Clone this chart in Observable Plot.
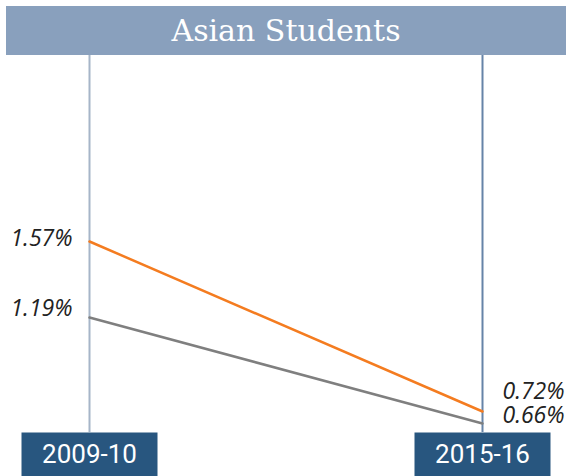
<!DOCTYPE html>
<html><head><meta charset="utf-8">
<script src="https://cdn.jsdelivr.net/npm/d3@7"></script>
<script src="https://cdn.jsdelivr.net/npm/@observablehq/plot@0.6"></script>
<style>
body{margin:0;background:#fff;}
#wrap{width:566px;height:476px;position:relative;overflow:hidden}
#banner{margin:6px 0 0 6px;width:560px;height:49px;background:#89a0bd;color:#fff;font-family:"DejaVu Serif",serif;font-size:30px;display:flex;align-items:center;justify-content:center;}
#chart svg{display:block}
</style></head><body>
<div id="wrap"><div id="banner"></div><div id="chart"></div></div>
<script>
const title = "Asian Students";
const years = ["2009-10", "2015-16"];
const seriesNames = ["Series 1", "Series 2"];
const series1Values = [1.57, 0.72];
const series2Values = [1.19, 0.66];

document.getElementById("banner").textContent = title;

const rows = [];
years.forEach((y, i) => {
  rows.push({year: y, value: series1Values[i], series: seriesNames[0]});
  rows.push({year: y, value: series2Values[i], series: seriesNames[1]});
});
const fmt = v => v.toFixed(2) + "%";
const boxSymbol = {draw(ctx) { ctx.moveTo(-68, -22); ctx.lineTo(68, -22); ctx.lineTo(68, 22); ctx.lineTo(-68, 22); ctx.closePath(); }};
const labelFont = {fontFamily: "'Open Sans', sans-serif", fontStyle: "italic", fontSize: 23, fill: "#222"};

const chart = Plot.plot({
  width: 566,
  height: 421,
  marginTop: 0, marginRight: 0, marginBottom: 44, marginLeft: 0,
  x: {type: "point", domain: years, range: [89, 482], padding: 0, axis: null},
  y: {domain: [0, 2], range: [500, 100], axis: null},
  color: {domain: seriesNames, range: ["#f47c20", "#7f7f7f"]},
  marks: [
    Plot.ruleX([years[0]], {stroke: "#a6b5c8", strokeWidth: 2}),
    Plot.ruleX([years[1]], {stroke: "#6684a8", strokeWidth: 2}),
    Plot.line(rows, {x: "year", y: "value", z: "series", stroke: "series", strokeWidth: 2.5}),
    Plot.text(rows.filter(d => d.year === years[0] && d.series === seriesNames[0]), {x: "year", y: "value", text: d => fmt(d.value), textAnchor: "end", dx: -17, dy: -3, ...labelFont}),
    Plot.text(rows.filter(d => d.year === years[0] && d.series === seriesNames[1]), {x: "year", y: "value", text: d => fmt(d.value), textAnchor: "end", dx: -17, dy: -9, ...labelFont}),
    Plot.text(rows.filter(d => d.year === years[1] && d.series === seriesNames[0]), {x: "year", y: "value", text: d => fmt(d.value), textAnchor: "start", dx: 20, dy: -20, ...labelFont}),
    Plot.text(rows.filter(d => d.year === years[1] && d.series === seriesNames[1]), {x: "year", y: "value", text: d => fmt(d.value), textAnchor: "start", dx: 20, dy: -8, ...labelFont}),
    Plot.dot(years, {x: d => d, frameAnchor: "bottom", dy: 22, symbol: boxSymbol, fill: "#28567f", stroke: "none", r: 10}),
    Plot.text(years, {x: d => d, frameAnchor: "bottom", dy: 22, text: d => d, fill: "#fff", fontSize: 26, fontFamily: "Roboto, sans-serif", lineAnchor: "middle"})
  ]
});
document.getElementById("chart").appendChild(chart);
</script>
</body></html>
